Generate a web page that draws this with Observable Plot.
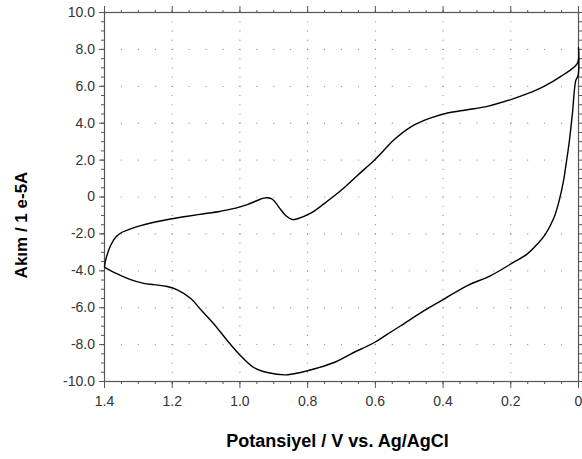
<!DOCTYPE html>
<html>
<head>
<meta charset="utf-8">
<script src="https://cdn.jsdelivr.net/npm/d3@7"></script>
<script src="https://cdn.jsdelivr.net/npm/@observablehq/plot@0.6"></script>
<style>
  html, body { margin: 0; padding: 0; background: #fff; }
  #chart { width: 582px; height: 459px; }
</style>
</head>
<body>
<div id="chart"></div>
<script>
// Cyclic voltammogram (potential in V, current in 1e-5 A)
const potential = [
  1.400, 1.397, 1.382, 1.367, 1.352, 1.323, 1.293, 1.254, 1.205, 1.155,
  1.106, 1.057, 1.027, 0.978, 0.949, 0.930, 0.919, 0.904, 0.885, 0.865,
  0.845, 0.830, 0.791, 0.752, 0.702, 0.653, 0.604, 0.574, 0.545, 0.496,
  0.456, 0.436, 0.387, 0.328, 0.269, 0.200, 0.151, 0.102, 0.052, 0.003,
  0.000, 0.001,
  0.008, 0.018, 0.028, 0.038, 0.044, 0.057, 0.072, 0.097, 0.121, 0.151,
  0.200, 0.259, 0.328, 0.397, 0.456, 0.525, 0.564, 0.604, 0.673, 0.722,
  0.771, 0.821, 0.865, 0.919, 0.959, 0.998, 1.037, 1.077, 1.116, 1.145,
  1.185, 1.215, 1.254, 1.284, 1.323, 1.362, 1.400
];
const current = [
  -3.80, -3.45, -2.63, -2.18, -1.95, -1.73, -1.55, -1.37, -1.19, -1.04,
  -0.91, -0.77, -0.66, -0.41, -0.19, -0.06, -0.04, -0.12, -0.55, -1.00,
  -1.22, -1.18, -0.88, -0.37, 0.35, 1.17, 1.98, 2.55, 3.10, 3.79,
  4.15, 4.29, 4.55, 4.73, 4.91, 5.28, 5.60, 6.00, 6.54, 7.26,
  8.10, 6.60,
  6.32, 4.52, 2.89, 1.62, 0.90, -0.19, -1.10, -2.00, -2.54, -3.08,
  -3.63, -4.26, -4.80, -5.53, -6.16, -6.98, -7.43, -7.90, -8.51, -8.97,
  -9.27, -9.51, -9.64, -9.51, -9.24, -8.60, -7.79, -6.88, -6.10, -5.50,
  -5.03, -4.85, -4.75, -4.68, -4.48, -4.17, -3.81
];

const xMajorTicks = [1.4, 1.2, 1.0, 0.8, 0.6, 0.4, 0.2, 0];
const yMajorTicks = [10, 8, 6, 4, 2, 0, -2, -4, -6, -8, -10];
const xMinorTicks = d3.range(0, 28 + 1).map(i => +(i * 0.05).toFixed(2));
const yMinorTicks = d3.range(-20, 20 + 1).map(i => i * 0.5);

const xTitle = "Potansiyel / V vs. Ag/AgCl";
const yTitle = "Akım / 1 e-5A";

const cv = potential.map((v, i) => ({v, i: current[i]}));

// dotted grid: dots along major x lines at each minor y, and along major y lines at each minor x
const gridInnerX = xMajorTicks.filter(d => d !== 1.4 && d !== 0);
const gridInnerY = yMajorTicks.filter(d => d !== 10 && d !== -10);
const gridDots = [];
for (const x of gridInnerX) for (const y of yMinorTicks) gridDots.push({x, y});
for (const y of gridInnerY) for (const x of xMinorTicks) gridDots.push({x, y});

const fmt = d => d === 0 ? "0" : d.toFixed(1);
const axisColor = "#555";

const chart = Plot.plot({
  width: 582,
  height: 459,
  marginTop: 12,
  marginBottom: 78,
  marginLeft: 104,
  marginRight: 4,
  style: {fontFamily: "Arial, 'Liberation Sans', sans-serif", fontSize: "14px", color: "#222", background: "#fff", overflow: "visible"},
  x: {domain: [1.4, 0]},
  y: {domain: [-10, 10]},
  marks: [
    Plot.dot(gridDots, {x: "x", y: "y", r: 0.6, fill: "#888", stroke: null}),
    // bottom axis
    Plot.axisX({anchor: "bottom", ticks: xMinorTicks, tickSize: 3, tickFormat: () => "", stroke: axisColor, label: null}),
    Plot.axisX({anchor: "bottom", ticks: xMajorTicks, tickSize: 7, tickPadding: 8, tickFormat: fmt, stroke: axisColor, fill: "#333", label: null}),
    // top axis
    Plot.axisX({anchor: "top", ticks: xMinorTicks, tickSize: 3, tickFormat: () => "", stroke: axisColor, label: null}),
    Plot.axisX({anchor: "top", ticks: xMajorTicks, tickSize: 7, tickFormat: () => "", stroke: axisColor, label: null}),
    // left axis
    Plot.axisY({anchor: "left", ticks: yMinorTicks, tickSize: 3, tickFormat: () => "", stroke: axisColor, label: null}),
    Plot.axisY({anchor: "left", ticks: yMajorTicks, tickSize: 5, tickPadding: 4.5, tickFormat: fmt, stroke: axisColor, fill: "#333", label: null}),
    // right axis
    Plot.axisY({anchor: "right", ticks: yMinorTicks, tickSize: 4, tickFormat: () => "", stroke: axisColor, label: null}),
    Plot.frame({stroke: axisColor, strokeWidth: 1.2}),
    Plot.line(cv, {x: "v", y: "i", stroke: "#000", strokeWidth: 1.4, curve: "catmull-rom"}),
    Plot.text([xTitle], {frameAnchor: "bottom", dy: 60, dx: -4, text: d => d, fontSize: 18, fontWeight: "bold", fill: "#000", lineAnchor: "middle", textAnchor: "middle"}),
    Plot.text([yTitle], {frameAnchor: "left", dx: -83, dy: 28, rotate: -90, text: d => d, fontSize: 17, fontWeight: "bold", fill: "#000", lineAnchor: "middle", textAnchor: "middle"})
  ]
});
document.getElementById("chart").appendChild(chart);
</script>
</body>
</html>
